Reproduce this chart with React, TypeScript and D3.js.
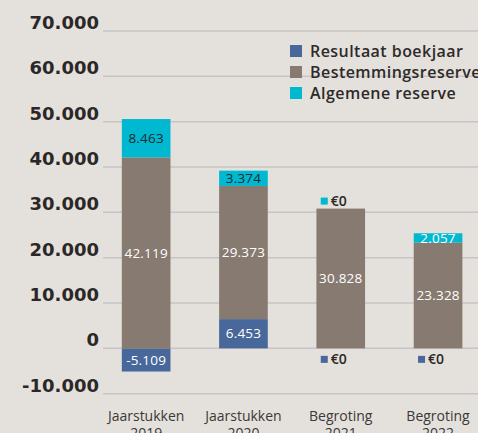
import React from "react";
import * as d3 from "d3";

const categories = [
  ["Jaarstukken", "2019"],
  ["Jaarstukken", "2020"],
  ["Begroting", "2021"],
  ["Begroting", "2022"],
];
const seriesNames = ["Resultaat boekjaar", "Bestemmingsreserve", "Algemene reserve"];
const resultaat = [-5109, 6453, 0, 0];
const bestemming = [42119, 29373, 30828, 23328];
const algemene = [8463, 3374, 0, 2057];
const yTicks = [-10000, 0, 10000, 20000, 30000, 40000, 50000, 60000, 70000];

const COLORS = ["#48679a", "#877a70", "#00b8d0"];
const CYAN_LABEL = ["#1d2b33", "#1d2b33", "#1d2b33", "#ffffff"];

const W = 478;
const H = 433;

const locale = d3.formatLocale({
  decimal: ",",
  thousands: ".",
  grouping: [3],
  currency: ["€", ""],
  minus: "-",
});
const fmt = locale.format(",d");

export default function App() {
  const y = d3.scaleLinear().domain([-10000, 70000]).range([393.7, 31]);
  const x = d3
    .scaleBand()
    .domain(categories.map((_, i) => String(i)))
    .range([97.5, 486.7])
    .paddingInner(0.5)
    .paddingOuter(0.25);

  const bw = x.bandwidth();
  const gridX0 = 103;

  const segs: any[] = [];
  categories.forEach((_, i) => {
    const r = resultaat[i];
    const b = bestemming[i];
    const a = algemene[i];
    const base = r > 0 ? r : 0;
    segs.push({ i, s: 0, y0: 0, y1: r, v: r });
    segs.push({ i, s: 1, y0: base, y1: base + b, v: b });
    segs.push({ i, s: 2, y0: base + b, y1: base + b + a, v: a });
  });

  const font = "'Open Sans', sans-serif";

  return (
    <svg
      width={W}
      height={H}
      style={{ position: "absolute", left: 0, top: 0, background: "#e4e1dc" }}
    >
      <rect x={0} y={0} width={W} height={H} fill="#e4e1dc" />
      {yTicks.map((t) => (
        <g key={t}>
          <line
            x1={gridX0}
            x2={W}
            y1={y(t)}
            y2={y(t)}
            stroke="#c6c4c6"
            strokeWidth={1.5}
          />
          <text
            x={99}
            y={y(t) - 2}
            textAnchor="end"
            fontFamily="'DejaVu Sans', sans-serif"
            fontWeight="bold"
            fontSize={18}
            fill="#2b2727"
          >
            {fmt(t)}
          </text>
        </g>
      ))}
      {segs
        .filter((d) => d.v !== 0)
        .map((d, k) => {
          const xx = x(String(d.i))!;
          const top = y(Math.max(d.y0, d.y1));
          const bot = y(Math.min(d.y0, d.y1));
          return (
            <rect
              key={k}
              x={xx}
              y={top}
              width={bw}
              height={bot - top}
              fill={COLORS[d.s]}
            />
          );
        })}
      {segs
        .filter((d) => d.v !== 0)
        .map((d, k) => {
          const cx = x(String(d.i))! + bw / 2;
          const cy = y((d.y0 + d.y1) / 2);
          const col = d.s === 2 ? CYAN_LABEL[d.i] : "#ffffff";
          return (
            <text
              key={"l" + k}
              x={cx}
              y={cy}
              dy="0.35em"
              textAnchor="middle"
              fontFamily={font}
              fontWeight={500}
              fontSize={13.5}
              letterSpacing={0.2}
              fill={col}
            >
              {fmt(d.v)}
            </text>
          );
        })}
      {segs
        .filter((d) => d.v === 0)
        .map((d, k) => {
          const cx = x(String(d.i))! + bw / 2;
          const ly = d.s === 0 ? y(0) + 11 : y(d.y0) - 7.5;
          return (
            <g key={"z" + k}>
              <rect
                x={cx - 20}
                y={ly - 3.5}
                width={7}
                height={7}
                fill={COLORS[d.s]}
              />
              <text
                x={cx - 10}
                y={ly}
                dy="0.35em"
                fontFamily={font}
                fontWeight={600}
                fontSize={14}
                fill="#2b2727"
              >
                €0
              </text>
            </g>
          );
        })}
      {categories.map((c, i) => {
        const cx = x(String(i))! + bw / 2;
        return (
          <text
            key={"c" + i}
            x={cx}
            textAnchor="middle"
            fontFamily={font}
            fontSize={14}
            fill="#3a3838"
          >
            <tspan x={cx} y={420.5}>
              {c[0]}
            </tspan>
            <tspan x={cx} y={438}>
              {c[1]}
            </tspan>
          </text>
        );
      })}
      {seriesNames.map((n, i) => {
        const ly = 51 + i * 21;
        return (
          <g key={"lg" + i}>
            <rect x={290} y={ly - 6} width={12} height={12} fill={COLORS[i]} />
            <text
              x={310}
              y={ly}
              dy="0.35em"
              fontFamily={font}
              fontWeight={600}
              fontSize={16}
              letterSpacing={0.45}
              fill="#2e2a2a"
            >
              {n}
            </text>
          </g>
        );
      })}
    </svg>
  );
}
